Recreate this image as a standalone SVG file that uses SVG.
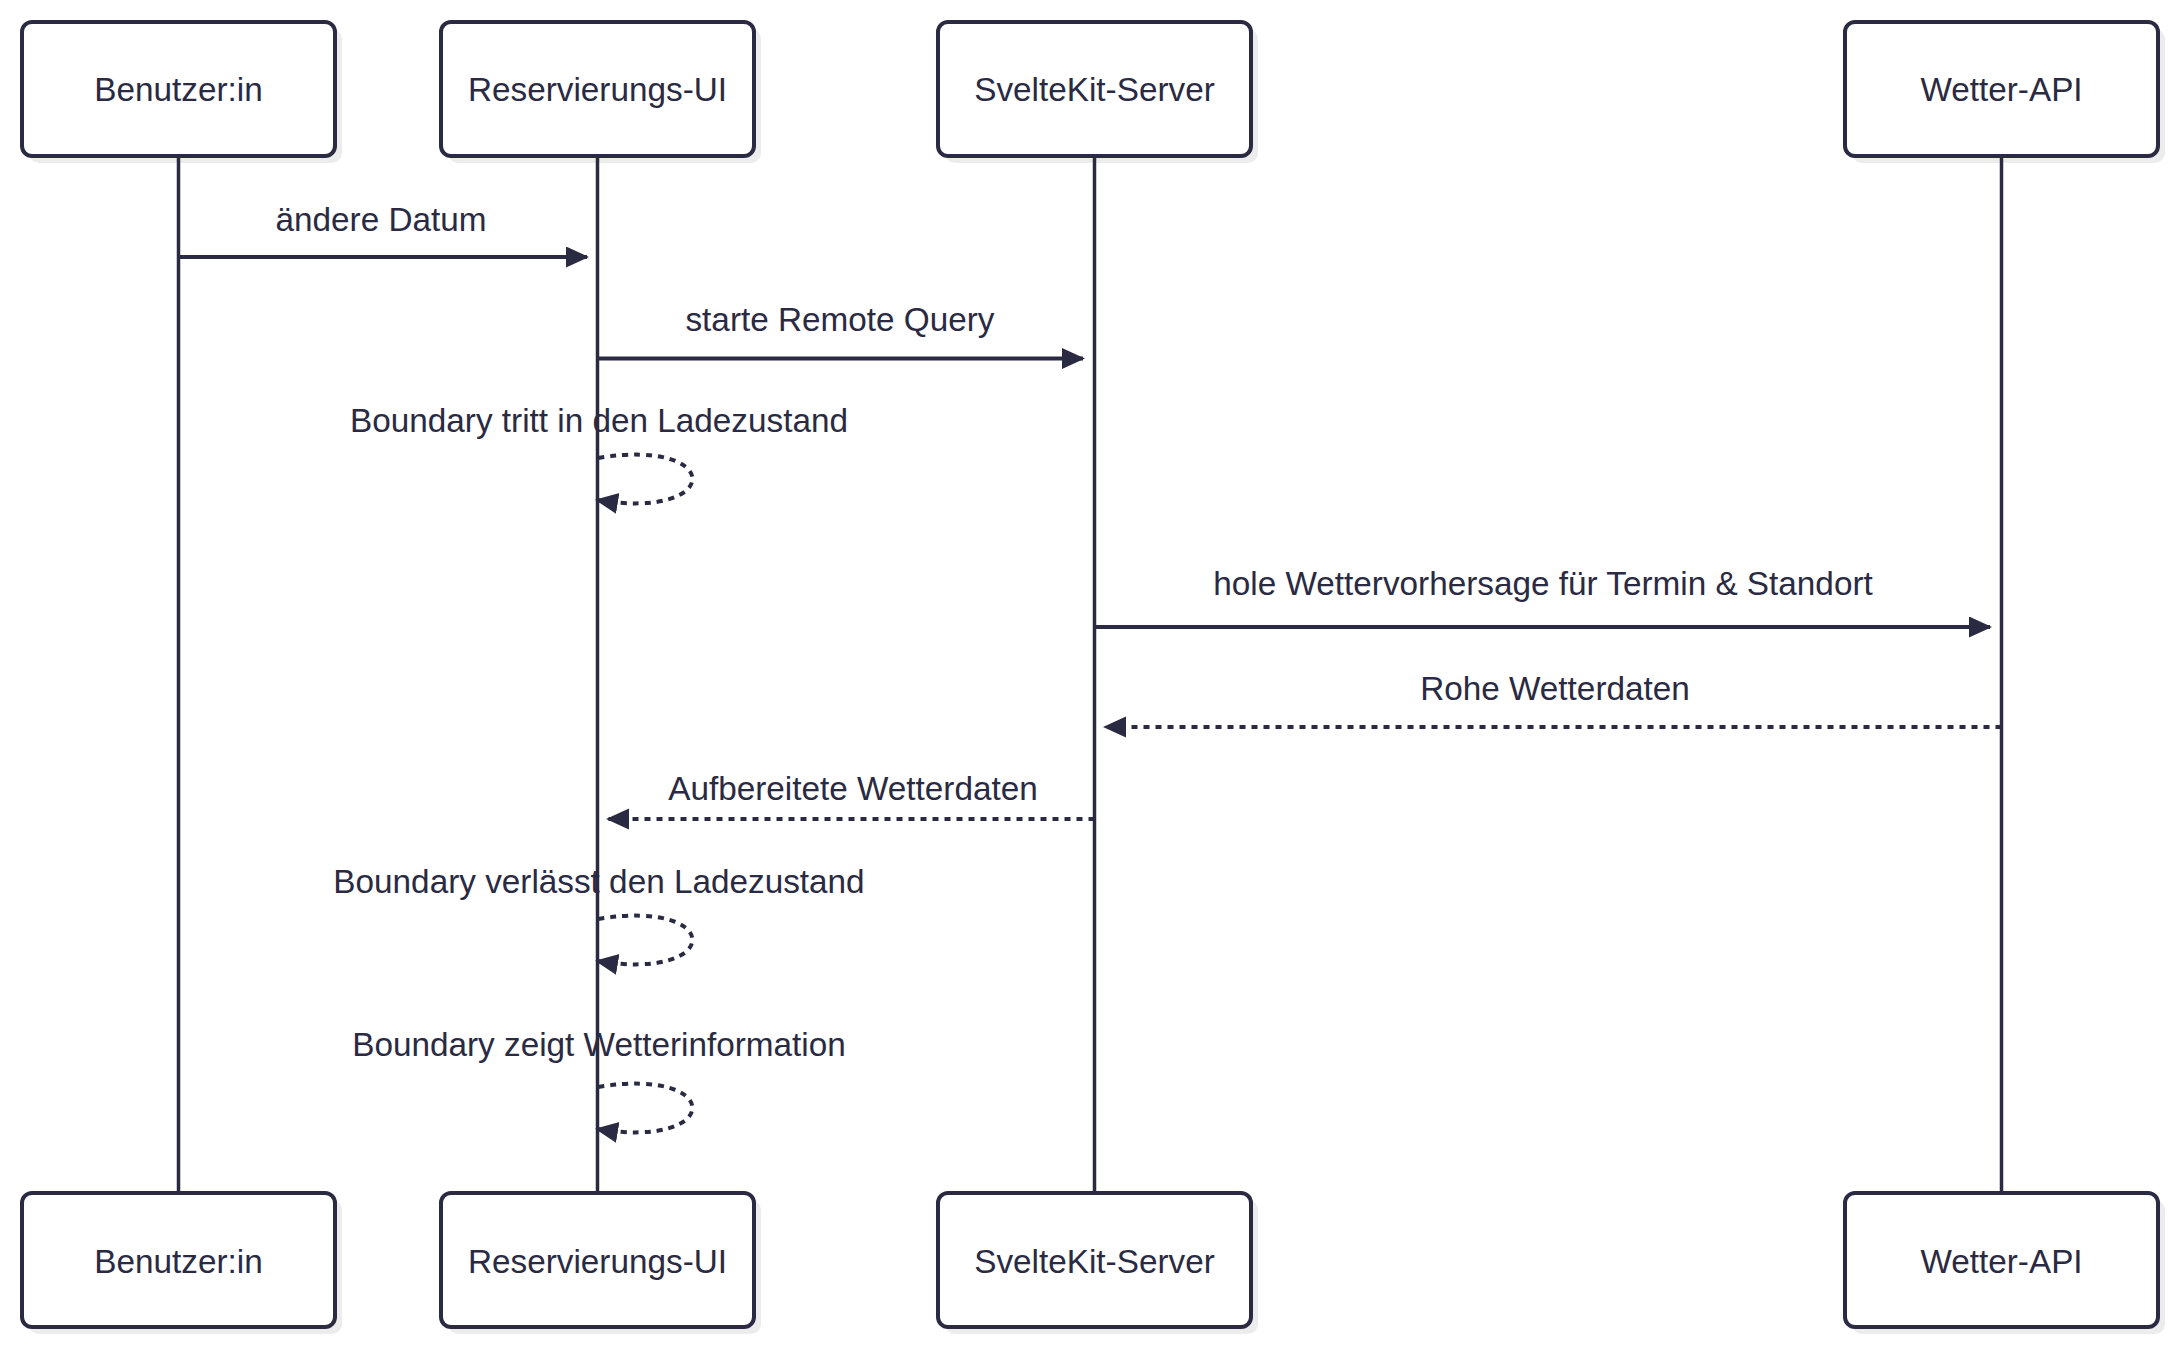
<svg xmlns="http://www.w3.org/2000/svg" width="2180" height="1350" viewBox="0 0 2180 1350">
  <style>
    .bg { fill: #ffffff; }
    .shadow { fill: #ececec; stroke: none; }
    .actor { fill: #ffffff; stroke: #2a2a42; stroke-width: 4; }
    .actor-text { font-family: "Liberation Sans", Arial, sans-serif; font-size: 33.3px; fill: #2a2a42; text-anchor: middle; dominant-baseline: central; }
    .lifeline { stroke: #2a2a42; stroke-width: 3.5; fill: none; }
    .msg { stroke: #2a2a42; stroke-width: 4; fill: none; marker-end: url(#arrow); }
    .dotted { stroke-dasharray: 6 6; }
    .label { font-family: "Liberation Sans", Arial, sans-serif; font-size: 33.3px; fill: #2a2a42; text-anchor: middle; }
  </style>
  <defs>
    <marker id="arrow" markerUnits="userSpaceOnUse" markerWidth="24" markerHeight="22" refX="21" refY="10.5" orient="auto" viewBox="0 0 24 22">
      <path d="M0,0 L23,10.5 L0,21 z" fill="#2a2a42"/>
    </marker>
  </defs>
  <rect class="bg" x="0" y="0" width="2180" height="1350"/>

  <g id="actor-benutzer-top">
    <rect class="shadow" x="29" y="29" width="313" height="134" rx="10"/>
    <rect class="actor" x="22" y="22" width="313" height="134" rx="10"/>
    <text class="actor-text" x="178.5" y="89">Benutzer:in</text>
  </g>
  <g id="actor-ui-top">
    <rect class="shadow" x="448" y="29" width="313" height="134" rx="10"/>
    <rect class="actor" x="441" y="22" width="313" height="134" rx="10"/>
    <text class="actor-text" x="597.5" y="89">Reservierungs-UI</text>
  </g>
  <g id="actor-server-top">
    <rect class="shadow" x="945" y="29" width="313" height="134" rx="10"/>
    <rect class="actor" x="938" y="22" width="313" height="134" rx="10"/>
    <text class="actor-text" x="1094.5" y="89">SvelteKit-Server</text>
  </g>
  <g id="actor-api-top">
    <rect class="shadow" x="1852" y="29" width="313" height="134" rx="10"/>
    <rect class="actor" x="1845" y="22" width="313" height="134" rx="10"/>
    <text class="actor-text" x="2001.5" y="89">Wetter-API</text>
  </g>

  <g id="actor-benutzer-bottom">
    <rect class="shadow" x="29" y="1200" width="313" height="134" rx="10"/>
    <rect class="actor" x="22" y="1193" width="313" height="134" rx="10"/>
    <text class="actor-text" x="178.5" y="1261">Benutzer:in</text>
  </g>
  <g id="actor-ui-bottom">
    <rect class="shadow" x="448" y="1200" width="313" height="134" rx="10"/>
    <rect class="actor" x="441" y="1193" width="313" height="134" rx="10"/>
    <text class="actor-text" x="597.5" y="1261">Reservierungs-UI</text>
  </g>
  <g id="actor-server-bottom">
    <rect class="shadow" x="945" y="1200" width="313" height="134" rx="10"/>
    <rect class="actor" x="938" y="1193" width="313" height="134" rx="10"/>
    <text class="actor-text" x="1094.5" y="1261">SvelteKit-Server</text>
  </g>
  <g id="actor-api-bottom">
    <rect class="shadow" x="1852" y="1200" width="313" height="134" rx="10"/>
    <rect class="actor" x="1845" y="1193" width="313" height="134" rx="10"/>
    <text class="actor-text" x="2001.5" y="1261">Wetter-API</text>
  </g>

  <g id="lifelines">
    <line class="lifeline" x1="178.5" y1="158" x2="178.5" y2="1191"/>
    <line class="lifeline" x1="597.5" y1="158" x2="597.5" y2="1191"/>
    <line class="lifeline" x1="1094.5" y1="158" x2="1094.5" y2="1191"/>
    <line class="lifeline" x1="2001.5" y1="158" x2="2001.5" y2="1191"/>
  </g>

  <g id="connectors">
    <line class="msg" x1="178.5" y1="257" x2="587" y2="257"/>
    <line class="msg" x1="597.5" y1="358.5" x2="1083" y2="358.5"/>
    <path class="msg dotted" d="M598,458 C724,437 724,521 597,500"/>
    <line class="msg" x1="1094.5" y1="627" x2="1990" y2="627"/>
    <line class="msg dotted" x1="2001.5" y1="727" x2="1105" y2="727"/>
    <line class="msg dotted" x1="1094.5" y1="819" x2="608" y2="819"/>
    <path class="msg dotted" d="M598,919 C724,898 724,982 597,961"/>
    <path class="msg dotted" d="M598,1087 C724,1066 724,1150 597,1129"/>
  </g>

  <g id="labels">
    <text class="label" x="381" y="231">ändere Datum</text>
    <text class="label" x="840" y="331">starte Remote Query</text>
    <text class="label" x="599" y="432">Boundary tritt in den Ladezustand</text>
    <text class="label" x="1543" y="595">hole Wettervorhersage für Termin &amp; Standort</text>
    <text class="label" x="1555" y="700">Rohe Wetterdaten</text>
    <text class="label" x="853" y="800">Aufbereitete Wetterdaten</text>
    <text class="label" x="599" y="893">Boundary verlässt den Ladezustand</text>
    <text class="label" x="599" y="1056">Boundary zeigt Wetterinformation</text>
  </g>
</svg>
